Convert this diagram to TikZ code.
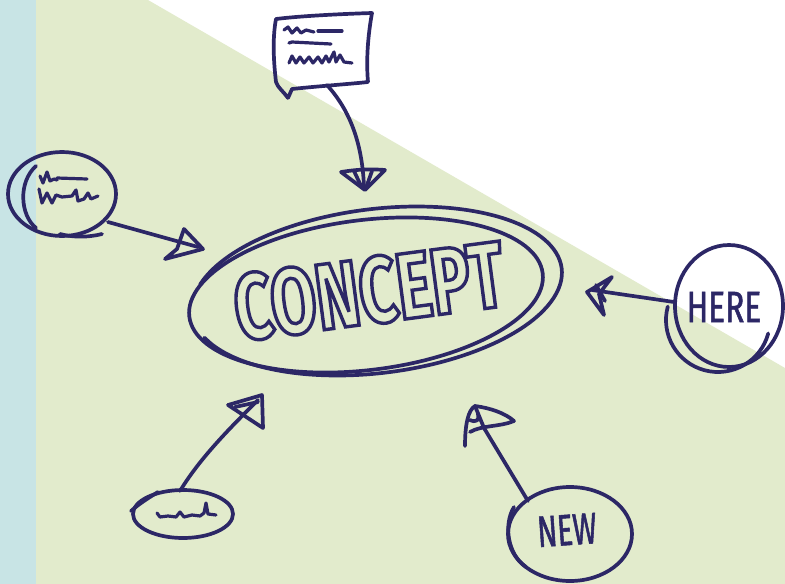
\documentclass[tikz,border=0pt]{standalone}
\usepackage{fontspec}
\usetikzlibrary{shapes.geometric}
\newfontfamily\handfont[FakeStretch=0.72,FakeBold=1.2]{Fira Sans}
\newfontfamily\newlblfont[FakeStretch=0.66,FakeBold=1.2]{Fira Sans}
\newfontfamily\conceptfont[FakeStretch=0.70]{Fira Sans}
\definecolor{ink}{HTML}{2C2766}
\definecolor{bggreen}{HTML}{E2EBCC}
\definecolor{bgblue}{HTML}{C8E4E5}
\newcommand\strokedtext[1]{\special{pdf:literal direct 1 Tr 3.4 w}#1\special{pdf:literal direct 0 Tr}}
\begin{document}
\begin{tikzpicture}[x=1pt,y=-1pt,
  ink/.style={draw=ink, line width=3.7pt, line cap=round, line join=round},
  scrib/.style={draw=ink, line width=3.2pt, line cap=round, line join=round},
  bubble/.style={ellipse, draw=ink, line width=3.7pt, inner sep=0pt},
  lbl/.style={text=ink, inner sep=0pt}]
\useasboundingbox (0,0) rectangle (785,584);
\fill[white] (0,0) rectangle (785,584);
\fill[bgblue] (0,0) rectangle (36,584);
\fill[bggreen] (36,0) -- (148,0) -- (785,368) -- (785,584) -- (36,584) -- cycle;

% ---- central concept
\node[bubble, minimum width=356, minimum height=150, rotate=7] (concept) at (366,295) {};
\draw[ink, rotate around={7:(377,291)}] (377,291) ++(200:186 and 82)
  arc[start angle=200, end angle=522, x radius=186, y radius=82];
\node[lbl, rotate=7.5, font=\conceptfont\bfseries\fontsize{94}{94}\selectfont]
  (conceptlbl) at (369,291) {\strokedtext{CONCEPT}};

% ---- speech bubble (top)
\draw[ink] (288,98) -- (292,89) .. controls (320,86) and (350,84) .. (368,82)
  .. controls (366,60) and (368,35) .. (372,13)
  .. controls (340,14) and (300,16) .. (276,19)
  .. controls (272,40) and (274,65) .. (276,82)
  .. controls (278,88) and (284,92) .. (288,98);
\draw[scrib] (284,30) -- (288,27) -- (292,33) -- (297,28) -- (301,33) -- (306,30) -- (314,32);
\draw[scrib] (318,31) -- (342,31);
\draw[scrib] (289,43) -- (292,42) -- (331,44);
\draw[scrib] (289,63) -- (292,56) -- (296,63) -- (300,57) -- (304,63) -- (309,57) -- (313,63)
  -- (318,57) -- (322,63) -- (326,56) -- (329,62) -- (334,52) -- (336,62) -- (340,55) -- (344,62) -- (352,63);
\coordinate (bubtail) at (327,85);
\coordinate (bubtip) at (364,187);
\draw[ink] (bubtail) .. controls (345,105) and (362,135) .. (bubtip);
\draw[ink] (341,172) .. controls (360,169) and (372,169) .. (385,170) -- (365,190) -- cycle;
\draw[ink] (354,171) -- (362,188);
\draw[ink] (372,171) -- (366,188);

% ---- left circle
\node[bubble, minimum width=108, minimum height=84] (cleft) at (62,194) {};
\draw[ink] (36,166) .. controls (18,182) and (20,215) .. (36,228);
\draw[ink] (60,234) .. controls (75,238) and (90,237) .. (102,234);
\draw[scrib] (40,176) -- (43,183) -- (47,172) -- (50,181) -- (54,179) -- (57,180);
\draw[scrib] (57,178) -- (87,179);
\draw[scrib] (39,189) -- (42,203) -- (47,193) -- (52,203) -- (56,195) -- (62,197) -- (72,196)
  -- (76,190) -- (78,201) -- (84,199) -- (88,193) -- (91,199) -- (98,196);
\coordinate (leftstart) at (108,222);
\coordinate (leftend) at (198,247);
\draw[ink] (leftstart) -- (leftend);
\draw[ink] (203,249) -- (184,229) -- (177,249) -- (165,259) -- cycle;

% ---- HERE
\node[bubble, minimum width=108, minimum height=122] (chere) at (729,306) {};
\draw[ink] (718,320) ++(15:52 and 52) arc[start angle=15, end angle=195, x radius=52, y radius=52];
\node[lbl, font=\handfont\fontsize{44}{44}\selectfont] (herelbl) at (724,307) {HERE};
\coordinate (herestart) at (674,302);
\coordinate (hereend) at (592,290);
\draw[ink] (herestart) -- (hereend);
\draw[ink] (587,292) -- (612,277) -- (599,294) -- (604,315) -- cycle;
\draw[ink] (596,285) -- (605,301);

% ---- bottom-left small ellipse
\node[bubble, minimum width=100, minimum height=48] (cbl) at (183,514) {};
\draw[ink] (131,511) .. controls (140,503) and (150,497) .. (158,492);
\draw[scrib] (157,513) -- (160,517) -- (168,516) -- (176,517) -- (180,512) -- (184,517) -- (192,515)
  -- (200,516) -- (204,513) -- (206,503) -- (208,514) -- (216,515);
\coordinate (blstart) at (180,491);
\coordinate (blend) at (258,400);
\draw[ink] (blstart) .. controls (200,458) and (230,428) .. (blend);
\draw[ink] (262,395) -- (228,405) -- (263,428) -- cycle;
\draw[ink] (235,407) -- (258,402);

% ---- NEW
\node[bubble, minimum width=124, minimum height=94] (cnew) at (570,534) {};
\draw[ink] (514,507) .. controls (503,525) and (508,555) .. (526,567);
\node[lbl, rotate=4, font=\newlblfont\fontsize{44}{44}\selectfont] (newlbl) at (567,530) {NEW};
\coordinate (newstart) at (528,501);
\coordinate (newend) at (484,428);
\draw[ink] (newstart) -- (newend);
\draw[ink] (465,446) .. controls (465,425) and (468,410) .. (475,406)
  .. controls (490,408) and (505,413) .. (514,421)
  .. controls (500,427) and (482,425) .. (470,432);
\draw[ink] (475,406) -- (484,428);
\draw[ink] (470,420) .. controls (476,423) and (480,420) .. (478,414);
\end{tikzpicture}
\end{document}
